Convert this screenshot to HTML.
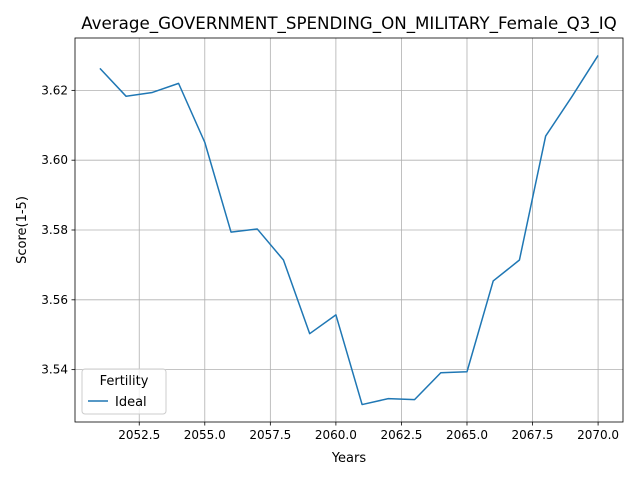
<!DOCTYPE html>
<html><head><meta charset="utf-8"><style>
body{margin:0;background:#fff;}
svg{font-family:"DejaVu Sans","Liberation Sans",sans-serif;}
</style></head><body>
<svg id="chart" width="640" height="480" xmlns="http://www.w3.org/2000/svg">
<rect width="640" height="480" fill="#fff"/>
<g id="grid"></g>
<g id="ticks"></g>
<path id="line" fill="none" stroke="#1f77b4" stroke-width="1.5" stroke-linejoin="round"/>
<rect x="75" y="38" width="548" height="384" fill="none" stroke="#000" stroke-width="0.8"/>
<text x="349" y="29" font-size="16.7" text-anchor="middle">Average_GOVERNMENT_SPENDING_ON_MILITARY_Female_Q3_IQ</text>
<text x="349" y="462" font-size="13" text-anchor="middle">Years</text>
<text transform="translate(26,230) rotate(-90)" font-size="13" text-anchor="middle">Score(1-5)</text>
<g>
<rect x="82" y="369" width="84" height="45" rx="3" fill="#fff" fill-opacity="0.8" stroke="#ccc"/>
<text x="124" y="385" font-size="13" text-anchor="middle">Fertility</text>
<line x1="88" y1="401" x2="108" y2="401" stroke="#1f77b4" stroke-width="1.5"/>
<text x="115" y="406" font-size="13">Ideal</text>
</g>
</svg>
<script>
const years=[2051,2052,2053,2054,2055,2056,2057,2058,2059,2060,2061,2062,2063,2064,2065,2066,2067,2068,2069,2070];
const ideal=[3.6263,3.6183,3.6194,3.622,3.6051,3.5794,3.5803,3.5714,3.5503,3.5557,3.53,3.5317,3.5314,3.5391,3.5394,3.5654,3.5714,3.6069,3.6182,3.63];
const xTicks=[2052.5,2055,2057.5,2060,2062.5,2065,2067.5,2070];
const xTickLabels=["2052.5","2055.0","2057.5","2060.0","2062.5","2065.0","2067.5","2070.0"];
const yTicks=[3.54,3.56,3.58,3.60,3.62];
const yTickLabels=["3.54","3.56","3.58","3.60","3.62"];
const L=75,R=623,T=38,B=422;
const xmin=Math.min(...years),xmax=Math.max(...years),xr=xmax-xmin;
const x0=xmin-0.05*xr,x1=xmax+0.05*xr;
const ymn=Math.min(...ideal),ymx=Math.max(...ideal),yr=ymx-ymn;
const y0=ymn-0.05*yr,y1=ymx+0.05*yr;
const sx=v=>L+(v-x0)/(x1-x0)*(R-L);
const sy=v=>B-(v-y0)/(y1-y0)*(B-T);
const NS="http://www.w3.org/2000/svg";
const grid=document.getElementById('grid'),ticks=document.getElementById('ticks');
function mk(tag,attrs,parent){const e=document.createElementNS(NS,tag);for(const k in attrs)e.setAttribute(k,attrs[k]);parent.appendChild(e);return e;}
xTicks.forEach((v,i)=>{const x=sx(v);
 const g=mk('line',{x1:x,x2:x,y1:T,y2:B,stroke:'#b0b0b0','stroke-width':0.8},grid);
 
 
 const t=mk('line',{x1:x,x2:x,y1:B,y2:B+3.5,stroke:'#000','stroke-width':0.8},ticks);
 
 
 const l=mk('text',{x:x,y:B+17,'font-size':12,'text-anchor':'middle'},ticks);l.textContent=xTickLabels[i];
 
 
});
yTicks.forEach((v,i)=>{const y=sy(v);
 const g=mk('line',{x1:L,x2:R,y1:y,y2:y,stroke:'#b0b0b0','stroke-width':0.8},grid);
 
 
 const t=mk('line',{x1:L-3.5,x2:L,y1:y,y2:y,stroke:'#000','stroke-width':0.8},ticks);
 
 
 const l=mk('text',{x:L-7,y:y+4,'font-size':12,'text-anchor':'end'},ticks);l.textContent=yTickLabels[i];
 
 
});
document.getElementById('line').setAttribute('d',years.map((yv,i)=>(i?'L':'M')+sx(yv).toFixed(2)+','+sy(ideal[i]).toFixed(2)).join(''));
</script>
</body></html>
